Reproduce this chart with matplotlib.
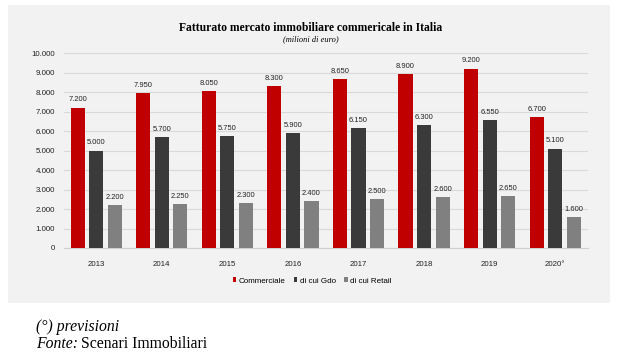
import numpy as np
import matplotlib
matplotlib.use('Agg')
import matplotlib.pyplot as plt
from matplotlib.patches import Rectangle

years = ['2013', '2014', '2015', '2016', '2017', '2018', '2019', '2020°']
commerciale = [7200, 7950, 8050, 8300, 8650, 8900, 9200, 6700]
gdo = [5000, 5700, 5750, 5900, 6150, 6300, 6550, 5100]
retail = [2200, 2250, 2300, 2400, 2500, 2600, 2650, 1600]
series_names = ['Commerciale', 'di cui Gdo', 'di cui Retail']
colors = ['#c00000', '#3a3a3a', '#808080']


def fmt(v):
    return '{:,}'.format(int(v)).replace(',', '.')


def main():
    W, H = 630, 358
    fig = plt.figure(figsize=(6.3, 3.58), dpi=100)
    fig.patch.set_facecolor('white')
    # grey panel behind the chart
    fig.patches.append(Rectangle((8 / W, 1 - 303 / H), 602 / W, 298 / H,
                                 transform=fig.transFigure, facecolor='#f2f2f2',
                                 edgecolor='none', zorder=-10))

    ax = fig.add_axes([63.5 / W, 1 - 248 / H, 524.5 / W, 195 / H])
    ax.set_facecolor('none')
    ax.set_zorder(5)
    x = np.arange(len(years))
    w = 0.215
    step = 0.283
    for i, (vals, name) in enumerate(zip([commerciale, gdo, retail], series_names)):
        bars = ax.bar(x + (i - 1) * step, vals, w, color=colors[i], label=name, zorder=3)
        for b, v in zip(bars, vals):
            ax.text(b.get_x() + b.get_width() / 2, v + 390, fmt(v), ha='center', va='center',
                    fontsize=5.4, family='Liberation Sans', color='#222222')

    ax.set_xlim(-0.5, len(years) - 0.5)
    ax.set_ylim(0, 10000)
    ax.set_yticks(range(0, 10001, 1000))
    ax.set_yticklabels([fmt(v) for v in range(0, 10001, 1000)], fontsize=5.7,
                       family='Liberation Sans', color='#222222')
    ax.set_xticks(x)
    ax.set_xticklabels(years, fontsize=5.7, family='Liberation Sans', color='#222222')
    ax.tick_params(axis='y', length=0, pad=6)
    ax.tick_params(axis='x', length=0, pad=9)
    ax.grid(axis='y', color='#d9d9d9', linewidth=0.8, zorder=0)
    for s in ['top', 'right', 'left']:
        ax.spines[s].set_visible(False)
    ax.spines['bottom'].set_color('#d0d0d0')

    fig.legend(loc='center', bbox_to_anchor=(312 / W, 1 - 281 / H), ncol=3, frameon=False,
               prop={'family': 'Liberation Sans', 'size': 5.8}, handlelength=0.45,
               handleheight=0.45, handletextpad=0.3, columnspacing=1.0)

    fig.text(310.5 / W, 1 - 28 / H, 'Fatturato mercato immobiliare commericale in Italia',
             ha='center', va='center', family='Liberation Serif', fontweight='bold', fontsize=8.4)
    fig.text(310.5 / W, 1 - 39.5 / H, '(milioni di euro)', ha='center', va='center',
             family='Liberation Serif', style='italic', fontsize=6)

    fig.text(36 / W, 1 - 327 / H, '(°) previsioni', ha='left', va='center',
             family='Liberation Serif', style='italic', fontsize=11.3)
    t = fig.text(36 / W, 1 - 344 / H, 'Fonte:', ha='left', va='center',
                 family='Liberation Serif', style='italic', fontsize=11.3)
    fig.canvas.draw()
    bb = t.get_window_extent()
    fig.text(bb.x1 / fig.bbox.width + 3 / W, 1 - 344 / H, 'Scenari Immobiliari', ha='left',
             va='center', family='Liberation Serif', fontsize=11.3)

    plt.savefig('out.png', dpi=100)


if __name__ == "__main__":
    main()
